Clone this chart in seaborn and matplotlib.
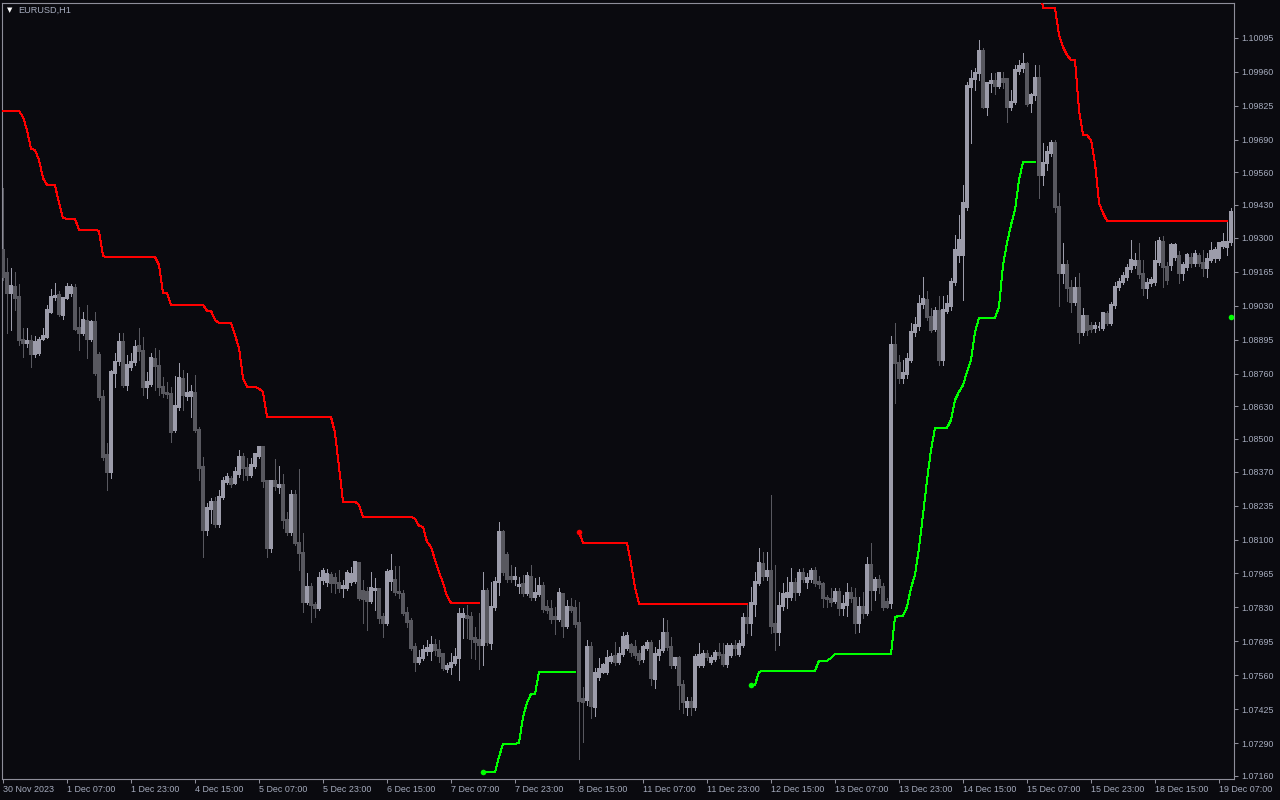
import numpy as np
import pandas as pd
import matplotlib
matplotlib.use("Agg")
import matplotlib.pyplot as plt
import seaborn as sns

# EURUSD H1 candles, 30 Nov 15:00 .. 19 Dec 10:00 (one value per bar)
opens = [
    1.09251, 1.09160, 1.09080, 1.09104, 1.09064, 1.08893, 1.08881, 1.08889, 1.08837, 1.08841,
    1.08897, 1.08905, 1.09005, 1.09064, 1.09072, 1.08993, 1.09060, 1.09080, 1.09100, 1.08941,
    1.08921, 1.08969, 1.08897, 1.08965, 1.08833, 1.08667, 1.08436, 1.08368, 1.08762, 1.08810,
    1.08885, 1.08714, 1.08786, 1.08806, 1.08869, 1.08849, 1.08706, 1.08718, 1.08818, 1.08790,
    1.08706, 1.08682, 1.08678, 1.08535, 1.08627, 1.08738, 1.08670, 1.08670, 1.08682, 1.08535,
    1.08388, 1.08138, 1.08221, 1.08249, 1.08162, 1.08269, 1.08329, 1.08341, 1.08325, 1.08360,
    1.08428, 1.08384, 1.08356, 1.08392, 1.08432, 1.08468, 1.08333, 1.08066, 1.08333, 1.08309,
    1.08317, 1.08178, 1.08130, 1.08277, 1.08086, 1.08046, 1.07852, 1.07911, 1.07840, 1.07828,
    1.07939, 1.07931, 1.07959, 1.07947, 1.07927, 1.07907, 1.07907, 1.07931, 1.07935, 1.08007,
    1.07895, 1.07891, 1.07856, 1.07899, 1.07903, 1.07792, 1.07768, 1.07935, 1.07939, 1.07891,
    1.07883, 1.07808, 1.07776, 1.07673, 1.07613, 1.07629, 1.07657, 1.07657, 1.07681, 1.07661,
    1.07645, 1.07585, 1.07593, 1.07609, 1.07629, 1.07792, 1.07796, 1.07792, 1.07709, 1.07701,
    1.07681, 1.07895, 1.07689, 1.07832, 1.07931, 1.08130, 1.08038, 1.07951, 1.07943, 1.07915,
    1.07923, 1.07887, 1.07951, 1.07872, 1.07883, 1.07915, 1.07832, 1.07824, 1.07792, 1.07784,
    1.07883, 1.07756, 1.07832, 1.07828, 1.07768, 1.07466, 1.07462, 1.07673, 1.07434, 1.07553,
    1.07573, 1.07573, 1.07617, 1.07637, 1.07613, 1.07645, 1.07669, 1.07681, 1.07673, 1.07645,
    1.07625, 1.07669, 1.07689, 1.07546, 1.07641, 1.07661, 1.07729, 1.07673, 1.07601, 1.07629,
    1.07522, 1.07434, 1.07454, 1.07434, 1.07601, 1.07601, 1.07645, 1.07613, 1.07625, 1.07649,
    1.07641, 1.07605, 1.07641, 1.07677, 1.07645, 1.07681, 1.07788, 1.07768, 1.07844, 1.07927,
    1.08003, 1.07955, 1.07975, 1.07764, 1.07732, 1.07836, 1.07872, 1.07872, 1.07927, 1.07891,
    1.07967, 1.07931, 1.07943, 1.07975, 1.07931, 1.07923, 1.07868, 1.07864, 1.07856, 1.07891,
    1.07828, 1.07840, 1.07887, 1.07868, 1.07768, 1.07832, 1.07808, 1.07999, 1.07899, 1.07939,
    1.07911, 1.07852, 1.07848, 1.08873, 1.08802, 1.08742, 1.08758, 1.08814, 1.08925, 1.08949,
    1.09036, 1.09052, 1.08985, 1.08937, 1.09009, 1.08814, 1.09009, 1.09028, 1.09124, 1.09231,
    1.09231, 1.09422, 1.09899, 1.09931, 1.09954, 1.10042, 1.09820, 1.09915, 1.09923, 1.09903,
    1.09931, 1.09931, 1.09820, 1.09840, 1.09963, 1.09975, 1.09991, 1.09836, 1.09867, 1.09935,
    1.09549, 1.09597, 1.09637, 1.09677, 1.09422, 1.09160, 1.09192, 1.09100, 1.09044, 1.09100,
    1.08925, 1.08989, 1.08949, 1.08941, 1.08943, 1.08941, 1.08997, 1.08961, 1.09032, 1.09104,
    1.09124, 1.09144, 1.09176, 1.09192, 1.09207, 1.09156, 1.09100, 1.09120, 1.09124, 1.09203,
    1.09283, 1.09184, 1.09192, 1.09223, 1.09227, 1.09160, 1.09184, 1.09219, 1.09199, 1.09227,
    1.09199, 1.09179, 1.09211, 1.09219, 1.09219, 1.09267, 1.09263, 1.09283,
]
highs = [
    1.09497, 1.09219, 1.09179, 1.09164, 1.09116, 1.08941, 1.08941, 1.08913, 1.08909, 1.08905,
    1.08941, 1.09032, 1.09096, 1.09120, 1.09088, 1.09064, 1.09120, 1.09116, 1.09116, 1.09025,
    1.09005, 1.09032, 1.08973, 1.09005, 1.08845, 1.08694, 1.08484, 1.08774, 1.08841, 1.08921,
    1.08921, 1.08833, 1.08841, 1.08893, 1.08941, 1.08905, 1.08766, 1.08841, 1.08861, 1.08853,
    1.08746, 1.08726, 1.08706, 1.08750, 1.08802, 1.08774, 1.08762, 1.08714, 1.08754, 1.08547,
    1.08428, 1.08245, 1.08265, 1.08269, 1.08297, 1.08349, 1.08364, 1.08352, 1.08388, 1.08456,
    1.08444, 1.08424, 1.08424, 1.08444, 1.08472, 1.08472, 1.08337, 1.08337, 1.08420, 1.08392,
    1.08360, 1.08209, 1.08297, 1.08297, 1.08380, 1.08126, 1.07967, 1.07927, 1.07852, 1.07971,
    1.07987, 1.07983, 1.07971, 1.07967, 1.07979, 1.07939, 1.07979, 1.07991, 1.08015, 1.08011,
    1.07939, 1.07911, 1.07971, 1.07947, 1.07907, 1.07808, 1.07983, 1.08042, 1.07995, 1.07995,
    1.07899, 1.07832, 1.07788, 1.07689, 1.07661, 1.07681, 1.07701, 1.07717, 1.07705, 1.07701,
    1.07649, 1.07609, 1.07649, 1.07669, 1.07828, 1.07828, 1.07840, 1.07812, 1.07752, 1.07808,
    1.07971, 1.07907, 1.07931, 1.07951, 1.08170, 1.08138, 1.08050, 1.07999, 1.07991, 1.07951,
    1.07959, 1.07971, 1.07999, 1.07947, 1.07951, 1.07931, 1.07860, 1.07860, 1.07832, 1.07907,
    1.07887, 1.07860, 1.07868, 1.07860, 1.07852, 1.07514, 1.07701, 1.07693, 1.07589, 1.07629,
    1.07609, 1.07661, 1.07649, 1.07693, 1.07673, 1.07732, 1.07732, 1.07689, 1.07701, 1.07661,
    1.07681, 1.07701, 1.07701, 1.07673, 1.07701, 1.07788, 1.07780, 1.07713, 1.07633, 1.07637,
    1.07542, 1.07474, 1.07474, 1.07645, 1.07689, 1.07661, 1.07661, 1.07641, 1.07661, 1.07689,
    1.07689, 1.07689, 1.07689, 1.07701, 1.07701, 1.07808, 1.07840, 1.07911, 1.07971, 1.08066,
    1.08050, 1.08050, 1.08277, 1.07999, 1.07891, 1.07927, 1.07951, 1.07987, 1.07947, 1.07983,
    1.07987, 1.07967, 1.07987, 1.07991, 1.07955, 1.07931, 1.07880, 1.07907, 1.07907, 1.07907,
    1.07880, 1.07927, 1.07911, 1.07907, 1.07872, 1.07891, 1.08031, 1.08086, 1.07951, 1.07959,
    1.07927, 1.07868, 1.08909, 1.08961, 1.08833, 1.08814, 1.08841, 1.08961, 1.08985, 1.09072,
    1.09144, 1.09088, 1.09021, 1.09025, 1.09068, 1.09068, 1.09072, 1.09140, 1.09311, 1.09390,
    1.09510, 1.09919, 1.09967, 1.09975, 1.10086, 1.10054, 1.09919, 1.09954, 1.09954, 1.09958,
    1.09958, 1.09935, 1.09887, 1.09987, 1.10006, 1.10034, 1.09999, 1.09875, 1.09987, 1.09987,
    1.09677, 1.09665, 1.09688, 1.09688, 1.09478, 1.09279, 1.09211, 1.09132, 1.09144, 1.09160,
    1.09021, 1.08993, 1.08965, 1.08965, 1.08965, 1.09005, 1.09009, 1.09044, 1.09124, 1.09140,
    1.09164, 1.09195, 1.09291, 1.09239, 1.09279, 1.09211, 1.09140, 1.09144, 1.09287, 1.09303,
    1.09307, 1.09203, 1.09279, 1.09279, 1.09247, 1.09203, 1.09239, 1.09239, 1.09251, 1.09239,
    1.09251, 1.09239, 1.09283, 1.09263, 1.09283, 1.09319, 1.09370, 1.09418,
]
lows = [
    1.09132, 1.08921, 1.08933, 1.09013, 1.08873, 1.08825, 1.08865, 1.08786, 1.08825, 1.08833,
    1.08893, 1.08901, 1.09001, 1.09052, 1.08989, 1.08977, 1.09056, 1.09068, 1.08933, 1.08853,
    1.08913, 1.08822, 1.08889, 1.08754, 1.08655, 1.08416, 1.08297, 1.08345, 1.08706, 1.08794,
    1.08706, 1.08694, 1.08774, 1.08794, 1.08814, 1.08674, 1.08662, 1.08710, 1.08694, 1.08674,
    1.08667, 1.08662, 1.08488, 1.08527, 1.08615, 1.08615, 1.08655, 1.08587, 1.08527, 1.08337,
    1.08031, 1.08118, 1.08166, 1.08150, 1.08150, 1.08261, 1.08321, 1.08309, 1.08321, 1.08349,
    1.08337, 1.08337, 1.08349, 1.08384, 1.08424, 1.08309, 1.08031, 1.08050, 1.08297, 1.08285,
    1.08146, 1.08118, 1.08118, 1.08078, 1.07979, 1.07812, 1.07844, 1.07772, 1.07792, 1.07820,
    1.07923, 1.07915, 1.07891, 1.07887, 1.07891, 1.07872, 1.07899, 1.07919, 1.07927, 1.07860,
    1.07768, 1.07740, 1.07848, 1.07820, 1.07768, 1.07713, 1.07760, 1.07899, 1.07880, 1.07868,
    1.07800, 1.07752, 1.07661, 1.07577, 1.07605, 1.07621, 1.07641, 1.07621, 1.07641, 1.07613,
    1.07581, 1.07573, 1.07565, 1.07601, 1.07542, 1.07709, 1.07709, 1.07629, 1.07625, 1.07585,
    1.07601, 1.07681, 1.07665, 1.07820, 1.07880, 1.07959, 1.07931, 1.07931, 1.07919, 1.07887,
    1.07876, 1.07880, 1.07860, 1.07860, 1.07876, 1.07812, 1.07808, 1.07768, 1.07725, 1.07776,
    1.07713, 1.07748, 1.07812, 1.07752, 1.07228, 1.07295, 1.07442, 1.07391, 1.07398, 1.07542,
    1.07569, 1.07565, 1.07609, 1.07601, 1.07605, 1.07637, 1.07661, 1.07637, 1.07629, 1.07605,
    1.07613, 1.07661, 1.07522, 1.07510, 1.07621, 1.07653, 1.07661, 1.07589, 1.07589, 1.07426,
    1.07410, 1.07402, 1.07402, 1.07422, 1.07593, 1.07593, 1.07621, 1.07605, 1.07617, 1.07629,
    1.07597, 1.07593, 1.07633, 1.07641, 1.07637, 1.07673, 1.07729, 1.07721, 1.07796, 1.07919,
    1.07939, 1.07939, 1.07729, 1.07661, 1.07681, 1.07820, 1.07828, 1.07860, 1.07860, 1.07880,
    1.07931, 1.07907, 1.07931, 1.07915, 1.07907, 1.07832, 1.07832, 1.07836, 1.07848, 1.07800,
    1.07800, 1.07796, 1.07852, 1.07729, 1.07732, 1.07788, 1.07800, 1.07820, 1.07860, 1.07887,
    1.07820, 1.07828, 1.07828, 1.08643, 1.08722, 1.08722, 1.08742, 1.08806, 1.08909, 1.08933,
    1.09021, 1.08973, 1.08925, 1.08929, 1.08794, 1.08794, 1.09001, 1.09013, 1.09112, 1.09203,
    1.09052, 1.09410, 1.09677, 1.09887, 1.09927, 1.09816, 1.09788, 1.09879, 1.09871, 1.09895,
    1.09895, 1.09760, 1.09808, 1.09832, 1.09950, 1.09958, 1.09824, 1.09800, 1.09847, 1.09458,
    1.09510, 1.09569, 1.09625, 1.09402, 1.09028, 1.09120, 1.09048, 1.09005, 1.09032, 1.08881,
    1.08913, 1.08913, 1.08925, 1.08925, 1.08933, 1.08933, 1.08953, 1.08953, 1.09021, 1.09092,
    1.09116, 1.09132, 1.09164, 1.09179, 1.09140, 1.09072, 1.09060, 1.09108, 1.09112, 1.09192,
    1.09104, 1.09116, 1.09172, 1.09211, 1.09120, 1.09132, 1.09172, 1.09184, 1.09188, 1.09188,
    1.09148, 1.09144, 1.09203, 1.09203, 1.09211, 1.09259, 1.09231, 1.09271,
]
closes = [
    1.09144, 1.09080, 1.09108, 1.09060, 1.08893, 1.08881, 1.08889, 1.08837, 1.08885, 1.08893,
    1.08909, 1.09013, 1.09064, 1.09068, 1.08997, 1.09060, 1.09104, 1.09104, 1.08937, 1.08921,
    1.08973, 1.08897, 1.08965, 1.08762, 1.08667, 1.08428, 1.08368, 1.08766, 1.08806, 1.08885,
    1.08714, 1.08794, 1.08806, 1.08865, 1.08849, 1.08706, 1.08726, 1.08822, 1.08790, 1.08706,
    1.08682, 1.08678, 1.08527, 1.08631, 1.08742, 1.08674, 1.08682, 1.08686, 1.08535, 1.08384,
    1.08138, 1.08225, 1.08249, 1.08162, 1.08269, 1.08333, 1.08349, 1.08321, 1.08368, 1.08428,
    1.08384, 1.08356, 1.08396, 1.08440, 1.08468, 1.08333, 1.08066, 1.08333, 1.08313, 1.08317,
    1.08178, 1.08130, 1.08277, 1.08086, 1.08046, 1.07852, 1.07911, 1.07840, 1.07828, 1.07947,
    1.07975, 1.07963, 1.07927, 1.07927, 1.07907, 1.07915, 1.07967, 1.07963, 1.08011, 1.07868,
    1.07864, 1.07856, 1.07907, 1.07903, 1.07788, 1.07768, 1.07971, 1.07975, 1.07891, 1.07887,
    1.07808, 1.07772, 1.07669, 1.07613, 1.07629, 1.07661, 1.07669, 1.07681, 1.07661, 1.07637,
    1.07589, 1.07597, 1.07609, 1.07633, 1.07804, 1.07804, 1.07788, 1.07705, 1.07693, 1.07681,
    1.07895, 1.07693, 1.07832, 1.07931, 1.08130, 1.07971, 1.07943, 1.07943, 1.07951, 1.07919,
    1.07887, 1.07955, 1.07872, 1.07887, 1.07915, 1.07824, 1.07820, 1.07784, 1.07784, 1.07887,
    1.07756, 1.07832, 1.07820, 1.07764, 1.07458, 1.07454, 1.07673, 1.07438, 1.07569, 1.07585,
    1.07601, 1.07629, 1.07633, 1.07613, 1.07645, 1.07713, 1.07717, 1.07653, 1.07641, 1.07621,
    1.07673, 1.07689, 1.07550, 1.07645, 1.07661, 1.07729, 1.07673, 1.07601, 1.07629, 1.07522,
    1.07454, 1.07454, 1.07434, 1.07633, 1.07641, 1.07645, 1.07633, 1.07629, 1.07649, 1.07641,
    1.07605, 1.07677, 1.07677, 1.07669, 1.07685, 1.07788, 1.07768, 1.07848, 1.07931, 1.08007,
    1.07955, 1.07975, 1.07756, 1.07732, 1.07836, 1.07883, 1.07887, 1.07927, 1.07891, 1.07967,
    1.07943, 1.07947, 1.07975, 1.07927, 1.07923, 1.07868, 1.07864, 1.07852, 1.07891, 1.07828,
    1.07844, 1.07887, 1.07868, 1.07768, 1.07832, 1.07808, 1.07999, 1.07899, 1.07939, 1.07911,
    1.07832, 1.07832, 1.08873, 1.08802, 1.08742, 1.08762, 1.08818, 1.08925, 1.08953, 1.09036,
    1.09056, 1.08985, 1.08933, 1.09009, 1.08814, 1.09013, 1.09036, 1.09124, 1.09251, 1.09291,
    1.09438, 1.09903, 1.09931, 1.09954, 1.10042, 1.09820, 1.09915, 1.09923, 1.09903, 1.09954,
    1.09919, 1.09820, 1.09840, 1.09967, 1.09983, 1.09991, 1.09832, 1.09867, 1.09935, 1.09549,
    1.09597, 1.09641, 1.09677, 1.09422, 1.09160, 1.09192, 1.09100, 1.09044, 1.09100, 1.08925,
    1.08989, 1.08933, 1.08937, 1.08949, 1.08945, 1.09001, 1.08961, 1.09032, 1.09104, 1.09124,
    1.09148, 1.09179, 1.09211, 1.09207, 1.09156, 1.09100, 1.09120, 1.09132, 1.09207, 1.09287,
    1.09184, 1.09132, 1.09271, 1.09271, 1.09160, 1.09192, 1.09231, 1.09199, 1.09235, 1.09199,
    1.09179, 1.09215, 1.09247, 1.09251, 1.09279, 1.09283, 1.09283, 1.09402,
]

# trailing stop above price (red), one segment per down-trend
red_start = [0, 144, 259]
red_values = [
    [1.09804, 1.09804, 1.09804, 1.09804, 1.09804, 1.09780, 1.09728, 1.09653, 1.09649, 1.09609,
     1.09537, 1.09510, 1.09510, 1.09508, 1.09438, 1.09378, 1.09375, 1.09375, 1.09375, 1.09331,
     1.09331, 1.09331, 1.09331, 1.09331, 1.09327, 1.09227, 1.09223, 1.09223, 1.09223, 1.09223,
     1.09223, 1.09223, 1.09223, 1.09223, 1.09223, 1.09223, 1.09223, 1.09223, 1.09223, 1.09192,
     1.09080, 1.09080, 1.09033, 1.09033, 1.09033, 1.09033, 1.09033, 1.09033, 1.09033, 1.09033,
     1.09033, 1.09009, 1.09009, 1.08973, 1.08961, 1.08961, 1.08961, 1.08961, 1.08913, 1.08861,
     1.08742, 1.08707, 1.08707, 1.08707, 1.08699, 1.08687, 1.08587, 1.08587, 1.08587, 1.08587,
     1.08587, 1.08587, 1.08587, 1.08587, 1.08587, 1.08587, 1.08587, 1.08587, 1.08587, 1.08587,
     1.08587, 1.08587, 1.08587, 1.08524, 1.08389, 1.08250, 1.08250, 1.08250, 1.08250, 1.08238,
     1.08190, 1.08190, 1.08190, 1.08190, 1.08190, 1.08190, 1.08190, 1.08190, 1.08190, 1.08190,
     1.08190, 1.08190, 1.08190, 1.08182, 1.08154, 1.08150, 1.08091, 1.08071, 1.08019, 1.07971,
     1.07927, 1.07876, 1.07848, 1.07848, 1.07848, 1.07848, 1.07848, 1.07848, 1.07848, 1.07848],
    [1.08130, 1.08087, 1.08087, 1.08087, 1.08087, 1.08087, 1.08087, 1.08087, 1.08087, 1.08087,
     1.08087, 1.08087, 1.08087, 1.08007, 1.07908, 1.07844, 1.07844, 1.07844, 1.07844, 1.07844,
     1.07844, 1.07844, 1.07844, 1.07844, 1.07844, 1.07844, 1.07844, 1.07844, 1.07844, 1.07844,
     1.07844, 1.07844, 1.07844, 1.07844, 1.07844, 1.07844, 1.07844, 1.07844, 1.07844, 1.07844,
     1.07844, 1.07844, 1.07844],
    [1.10325, 1.10213, 1.10213, 1.10213, 1.10213, 1.10106, 1.10058, 1.10026, 1.10007, 1.10007,
     1.09808, 1.09708, 1.09708, 1.09688, 1.09597, 1.09438, 1.09398, 1.09367, 1.09367, 1.09367,
     1.09367, 1.09367, 1.09367, 1.09367, 1.09367, 1.09367, 1.09367, 1.09367, 1.09367, 1.09367,
     1.09367, 1.09367, 1.09367, 1.09367, 1.09367, 1.09367, 1.09367, 1.09367, 1.09367, 1.09367,
     1.09367, 1.09367, 1.09367, 1.09367, 1.09367, 1.09367, 1.09367, 1.09367],
]

# trailing stop below price (green), one segment per up-trend
green_start = [120, 187, 307]
green_values = [
    [1.07176, 1.07176, 1.07176, 1.07176, 1.07236, 1.07288, 1.07288, 1.07288, 1.07288, 1.07292,
     1.07395, 1.07451, 1.07486, 1.07486, 1.07574, 1.07574, 1.07574, 1.07574, 1.07574, 1.07574,
     1.07574, 1.07574, 1.07574, 1.07574],
    [1.07522, 1.07522, 1.07574, 1.07578, 1.07578, 1.07578, 1.07578, 1.07578, 1.07578, 1.07578,
     1.07578, 1.07578, 1.07578, 1.07578, 1.07578, 1.07578, 1.07578, 1.07618, 1.07618, 1.07618,
     1.07629, 1.07645, 1.07645, 1.07645, 1.07645, 1.07645, 1.07645, 1.07645, 1.07645, 1.07645,
     1.07645, 1.07645, 1.07645, 1.07645, 1.07645, 1.07645, 1.07792, 1.07796, 1.07796, 1.07832,
     1.07908, 1.07959, 1.08067, 1.08198, 1.08337, 1.08456, 1.08544, 1.08544, 1.08544, 1.08544,
     1.08575, 1.08655, 1.08687, 1.08714, 1.08766, 1.08814, 1.08925, 1.08981, 1.08981, 1.08981,
     1.08981, 1.08981, 1.09025, 1.09192, 1.09279, 1.09351, 1.09410, 1.09529, 1.09601, 1.09601,
     1.09601, 1.09601],
    [1.08985],
]

time_labels = ["30 Nov 2023", "1 Dec 07:00", "1 Dec 23:00", "4 Dec 15:00", "5 Dec 07:00",
               "5 Dec 23:00", "6 Dec 15:00", "7 Dec 07:00", "7 Dec 23:00", "8 Dec 15:00",
               "11 Dec 07:00", "11 Dec 23:00", "12 Dec 15:00", "13 Dec 07:00", "13 Dec 23:00",
               "14 Dec 15:00", "15 Dec 07:00", "15 Dec 23:00", "18 Dec 15:00", "19 Dec 07:00"]
price_ticks = [1.07160, 1.07290, 1.07425, 1.07560, 1.07695, 1.07830, 1.07965, 1.08100,
               1.08235, 1.08370, 1.08500, 1.08630, 1.08760, 1.08895, 1.09030, 1.09165,
               1.09300, 1.09430, 1.09560, 1.09690, 1.09825, 1.09960, 1.10095]

bg = "#0a0a0f"
bull_col = "#9c9caa"
bear_col = "#58585f"
text_col = "#a6acbe"
frame_col = "#8e8e9a"

sns.set_theme(style="dark", rc={"axes.facecolor": bg, "figure.facecolor": bg,
                                "savefig.facecolor": bg})
plt.rcParams["font.family"] = ["Liberation Sans", "DejaVu Sans"]

df = pd.DataFrame({"open": opens, "high": highs, "low": lows, "close": closes})
df["bar"] = np.arange(len(df))
colors = np.where(df["close"] >= df["open"], bull_col, bear_col)


def segments(starts, values):
    rows = []
    for k, (s, vals) in enumerate(zip(starts, values)):
        for j, v in enumerate(vals):
            rows.append({"bar": s + j, "stop": v, "seg": k})
    return pd.DataFrame(rows)


red_df = segments(red_start, red_values)
green_df = segments(green_start, green_values)
red_dots = red_df[(red_df["bar"].isin(red_start[1:])) & (red_df.groupby("seg").cumcount() == 0)]
green_dots = green_df[green_df.groupby("seg").cumcount() == 0]

fig = plt.figure(figsize=(12.8, 8), dpi=100)
ax = fig.add_axes([2 / 1280, 21 / 800, 1232 / 1280, 776 / 800])

# candles
ax.vlines(df["bar"], df["low"], df["high"], colors=colors, linewidth=0.72,
          antialiased=False, zorder=2)
ax.bar(df["bar"], df["close"] - df["open"], bottom=df["open"], width=0.7,
       color=colors, edgecolor=colors, linewidth=0.3, antialiased=False, zorder=3)

# trailing stop lines
sns.lineplot(data=red_df, x="bar", y="stop", units="seg", estimator=None,
             color="#ff0000", linewidth=0.72, antialiased=False, ax=ax, legend=False, zorder=4)
sns.lineplot(data=green_df, x="bar", y="stop", units="seg", estimator=None,
             color="#00ff00", linewidth=0.72, antialiased=False, ax=ax, legend=False, zorder=4)
sns.scatterplot(data=red_dots, x="bar", y="stop", color="#ff0000", s=16,
                linewidth=0, ax=ax, legend=False, zorder=5)
sns.scatterplot(data=green_dots, x="bar", y="stop", color="#00ff00", s=16,
                linewidth=0, ax=ax, legend=False, zorder=5)

ax.set_xlim(-0.25, 307.75)
ax.set_ylim(1.07148, 1.10233)
ax.grid(False)
ax.set_xlabel("")
ax.set_ylabel("")

ax.yaxis.tick_right()
ax.set_yticks(price_ticks)
ax.set_yticklabels([f"{p:.5f}" for p in price_ticks])
ax.set_xticks(np.arange(0, len(df), 16))
ax.set_xticklabels(time_labels)
for lbl in ax.get_xticklabels():
    lbl.set_horizontalalignment("left")
ax.tick_params(axis="both", which="major", direction="out", length=3, width=0.75,
               color=frame_col, labelcolor=text_col, labelsize=6.4)
ax.tick_params(axis="y", pad=2, left=False, right=True)
ax.tick_params(axis="x", pad=1.5, bottom=True)

for sp in ax.spines.values():
    sp.set_color(frame_col)
    sp.set_linewidth(0.8)

fig.text(10 / 1280, 1 - 10 / 800, "\u25bc", color="white", fontsize=5,
         ha="center", va="center", family=["DejaVu Sans"])
fig.text(18 / 1280, 1 - 10 / 800, "EURUSD,H1", color=text_col, fontsize=6.6,
         ha="left", va="center")

fig.savefig("out.png", dpi=100, facecolor=bg)
